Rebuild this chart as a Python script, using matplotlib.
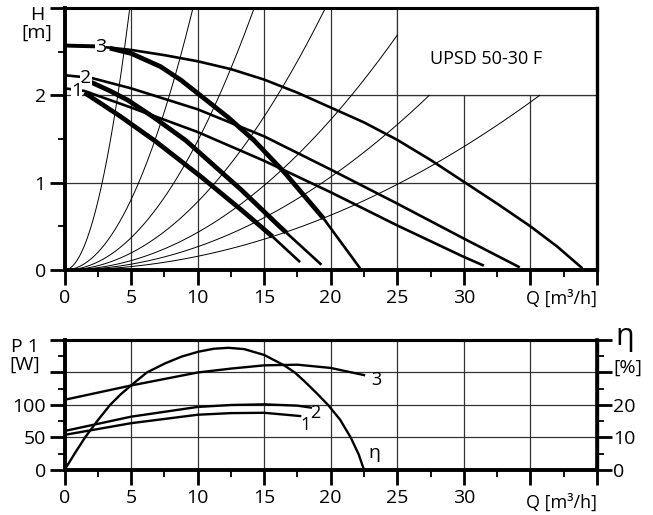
import numpy as np
import matplotlib.pyplot as plt
from matplotlib.patches import Rectangle

plt.rcParams['font.family'] = ['Open Sans', 'DejaVu Sans']

# --- H(Q): pump curves at max setting (medium lines) ---
q_max3 = [0, 2.5, 5, 7.5, 10, 12.5, 15, 17.5, 20, 22.5, 25, 27.5, 30, 32.5, 35, 37, 38.9]
h_max3 = [2.57, 2.56, 2.52, 2.46, 2.39, 2.30, 2.18, 2.03, 1.86, 1.69, 1.49, 1.26, 1.01, 0.76, 0.50, 0.27, 0.02]
q_max2 = [0, 2, 5, 10, 15, 20, 25, 30, 34.2]
h_max2 = [2.23, 2.20, 2.08, 1.84, 1.53, 1.15, 0.76, 0.36, 0.03]
q_max1 = [0, 1.5, 5, 10, 15, 20, 25, 30, 31.5]
h_max1 = [2.08, 2.05, 1.86, 1.58, 1.25, 0.89, 0.51, 0.15, 0.05]

# --- H(Q): thick curves ---
q_th3 = [3.4, 5.0, 7.2, 8.7, 10.2, 12.2, 14.2, 16.45, 19.46, 22.2]
h_th3 = [2.54, 2.48, 2.33, 2.18, 2.00, 1.76, 1.49, 1.13, 0.59, 0.02]
q_th2 = [2.0, 3.3, 4.7, 6.5, 9.06, 13.2, 16.0, 19.3]
h_th2 = [2.15, 2.06, 1.95, 1.77, 1.49, 0.93, 0.52, 0.06]
q_th1 = [1.5, 4.0, 6.7, 10.0, 13.2, 15.5, 17.7]
h_th1 = [2.03, 1.78, 1.49, 1.10, 0.70, 0.40, 0.09]

# system curves (parabolas through origin), end points
sys_q_end = [4.9, 9.65, 14.25, 19.6, 25.0, 27.4, 35.7]
sys_h_end = [3.0, 3.0, 3.0, 3.0, 2.69, 2.0, 2.0]

# --- P1(Q) and efficiency ---
q_p3 = [0, 5, 10, 12.5, 15, 17.5, 20, 22.5]
p_3 = [108, 130, 150, 156, 161, 162, 157, 146]
q_p2 = [0, 5, 10, 12.5, 15, 17.5, 18.5]
p_2 = [60, 82, 97, 100, 101, 99, 96]
q_p1 = [0, 5, 10, 12.5, 15, 17.7]
p_1 = [54, 72, 85, 87.5, 88, 83]
q_eta = [0, 0.8, 1.54, 2.5, 3.42, 4.2, 5.05, 6.18, 7.55, 8.8, 10.06, 11.2, 12.3,
         13.5, 15, 16.5, 17.3, 18, 19, 19.8, 20.7, 21.5, 22.1, 22.5]
eta = [0, 5.3, 10, 15.3, 20, 23.2, 26.2, 30, 32.8, 34.9, 36.4, 37.3, 37.6,
       37.2, 35.4, 32.2, 30, 27.4, 23.4, 20, 15.5, 10, 4.8, 0]

x_ticks = [0, 5, 10, 15, 20, 25, 30, 35, 40]
x_labels = ['0', '5', '10', '15', '20', '25', '30', '', '']

GRID = '#333333'
FS = 14


def style_axes(ax, right_lw=2.4):
    for s in ['left', 'bottom']:
        ax.spines[s].set_linewidth(2.8)
    ax.spines['top'].set_linewidth(2.2)
    ax.spines['right'].set_linewidth(right_lw)
    ax.tick_params(which='major', length=10.5, width=2.0, labelsize=FS, pad=3)
    ax.tick_params(which='minor', length=5, width=1.3)
    ax.set_xlim(0, 40)
    ax.set_xticks(x_ticks)
    ax.set_xticklabels(x_labels)
    ax.set_xticks(np.arange(2.5, 40, 5), minor=True)
    ax.set_axisbelow(True)
    ax.grid(True, which='major', color=GRID, lw=0.9)


fig = plt.figure(figsize=(6.53, 5.15), dpi=100)

# ---------------- top: H(Q) ----------------
ax1 = fig.add_axes([0.0988, 0.4757, 0.8154, 0.5088])
style_axes(ax1)
ax1.set_ylim(0, 3)
ax1.set_yticks([0, 1, 2, 3])
ax1.set_yticklabels(['0', '1', '2', ''])
ax1.set_yticks([0.5, 1.5, 2.5], minor=True)

# white box for the model name
ax1.add_patch(Rectangle((25, 2), 15, 1, facecolor='white', edgecolor=GRID, lw=0.9, zorder=1))
ax1.text(31.7, 2.42, 'UPSD 50-30 F', ha='center', va='center', fontsize=13)

k_sys = [h / q ** 2 for q, h in zip(sys_q_end, sys_h_end)]
for k, qe in zip(k_sys, sys_q_end):
    qq = np.linspace(0, qe, 200)
    ax1.plot(qq, k * qq ** 2, color='black', lw=0.7, zorder=2)

for q, h in [(q_max3, h_max3), (q_max2, h_max2), (q_max1, h_max1)]:
    ax1.plot(q, h, color='black', lw=1.9, zorder=3, solid_capstyle='butt')
# short heavy lead-in to label 3
ax1.plot(q_max3[:2], h_max3[:2], color='black', lw=2.8, zorder=3, solid_capstyle='butt')

# thick curves are heavy down to the outermost system curve, then medium
k_last = k_sys[-1]
for q, h in [(q_th3, h_th3), (q_th2, h_th2), (q_th1, h_th1)]:
    qq = np.linspace(q[0], q[-1], 400)
    hh = np.interp(qq, q, h)
    cut = np.argmax(hh <= k_last * qq ** 2)
    ax1.plot(qq[:cut + 1], hh[:cut + 1], color='black', lw=3.4, zorder=3,
             solid_capstyle='butt', solid_joinstyle='round')
    ax1.plot(qq[cut:], hh[cut:], color='black', lw=1.9, zorder=3, solid_capstyle='butt')

for lab, qx, hy in [('3', 2.7, 2.55), ('2', 1.6, 2.2), ('1', 0.9, 2.05)]:
    ax1.text(qx, hy, lab, ha='center', va='center', fontsize=FS, zorder=4,
             bbox=dict(facecolor='white', edgecolor='none', pad=0.3))

ax1.text(-0.052, 0.975, 'H', transform=ax1.transAxes, ha='center', va='center', fontsize=FS)
ax1.text(-0.052, 0.905, '[m]', transform=ax1.transAxes, ha='center', va='center', fontsize=FS)
ax1.text(40, -0.11, 'Q [m³/h]', transform=ax1.get_xaxis_transform(),
         ha='right', va='center', fontsize=13)

# ---------------- bottom: P1(Q), eta ----------------
ax2 = fig.add_axes([0.0988, 0.0874, 0.8154, 0.2524])
style_axes(ax2)
ax2.set_ylim(0, 200)
ax2.set_yticks([0, 50, 100, 150, 200])
ax2.set_yticklabels(['0', '50', '100', '', ''])
ax2.set_yticks([25, 75, 125, 175], minor=True)

for q, p in [(q_p3, p_3), (q_p2, p_2), (q_p1, p_1)]:
    ax2.plot(q, p, color='black', lw=1.7, zorder=3)

ax3 = ax2.twinx()
ax3.set_ylim(0, 40)
ax3.set_yticks([0, 10, 20, 30, 40])
ax3.set_yticklabels(['0', '10', '20', '', ''])
ax3.set_yticks([5, 15, 25, 35], minor=True)
ax3.spines['right'].set_linewidth(2.6)
ax3.spines['top'].set_linewidth(2.2)
ax3.tick_params(which='major', length=10.5, width=2.0, labelsize=FS, pad=1)
ax3.tick_params(which='minor', length=5, width=1.3)
ax3.plot(q_eta, eta, color='black', lw=1.7)

for lab, qx, py in [('3', 23.4, 138), ('2', 18.8, 88), ('1', 18.1, 69)]:
    ax2.text(qx, py, lab, ha='center', va='center', fontsize=FS - 1)
ax2.text(23.3, 26, 'η', ha='center', va='center', fontsize=FS)

ax2.text(-0.074, 0.95, 'P 1', transform=ax2.transAxes, ha='center', va='center', fontsize=FS)
ax2.text(-0.074, 0.81, '[W]', transform=ax2.transAxes, ha='center', va='center', fontsize=FS)
ax2.text(1.053, 1.02, 'η', transform=ax2.transAxes, ha='center', va='center', fontsize=22)
ax2.text(1.058, 0.79, '[%]', transform=ax2.transAxes, ha='center', va='center', fontsize=FS)
ax2.text(40, -0.25, 'Q [m³/h]', transform=ax2.get_xaxis_transform(),
         ha='right', va='center', fontsize=13)

fig.savefig('out.png', dpi=100)
